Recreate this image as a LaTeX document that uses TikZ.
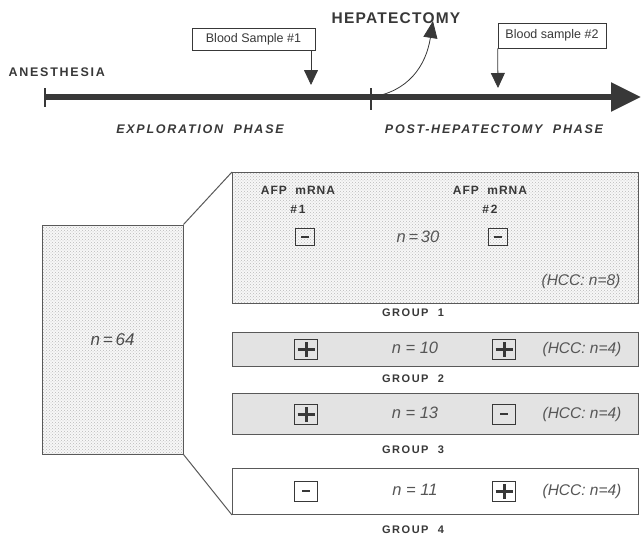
\documentclass[tikz,border=0pt]{standalone}
\usepackage{fontspec}
\setmainfont{Liberation Sans}
\newfontfamily\spaced[LetterSpace=8]{Liberation Sans}
\newfontfamily\wide[LetterSpace=14]{Liberation Sans}
\usetikzlibrary{arrows.meta,patterns}
\definecolor{ink}{gray}{0.22}
\definecolor{boxline}{gray}{0.35}
\tikzset{
  sample/.style={draw=ink, line width=0.7pt, inner sep=2.5pt, font=\fontsize{12.5}{14}\selectfont, text=ink},
  samplearrow/.style={draw=ink, line width=0.8pt, -{Triangle[length=15pt,width=14pt]}},
  phase/.style={font=\wide\fontsize{12.5}{14}\selectfont\bfseries\itshape, text=ink},
  grouplbl/.style={font=\wide\fontsize{11}{13}\selectfont\bfseries, text=ink},
  grpbox/.style={draw=boxline, line width=1pt},
  stipple/.style={preaction={fill=gray!6}, pattern=crosshatch dots, pattern color=gray!55},
  screen/.style={fill=gray!22},
  nlbl/.style={font=\fontsize{16.5}{18}\selectfont\itshape, text=ink!85},
  hcc/.style={font=\fontsize{15.5}{17}\selectfont\itshape, text=ink!85},
  afp/.style={font=\spaced\fontsize{12}{19}\selectfont\bfseries, text=ink, align=center},
  signbox/.style={draw=ink, line width=1pt, minimum width=23pt, minimum height=20pt, inner sep=0pt},
  plusbox/.style={signbox, path picture={
     \draw[line width=3pt, ink] ([xshift=-8.5pt]path picture bounding box.center) -- ([xshift=8.5pt]path picture bounding box.center);
     \draw[line width=3pt, ink] ([yshift=-7.5pt]path picture bounding box.center) -- ([yshift=7.5pt]path picture bounding box.center);}},
  minusbox/.style={signbox, path picture={
     \draw[line width=2.6pt, ink] ([xshift=-4pt]path picture bounding box.center) -- ([xshift=4pt]path picture bounding box.center);}},
  smallminus/.style={minusbox, minimum width=19pt, minimum height=17pt}
}
\begin{document}
\begin{tikzpicture}[x=1pt,y=-1pt]
\useasboundingbox (0,0) rectangle (641,538);

% ---- timeline ----
\coordinate (tstart) at (45,97);
\coordinate (thep) at (371,97);
\coordinate (tend) at (641,97);
\draw[ink, line width=5.5pt, -{Triangle[length=30pt,width=28pt]}] (tstart) -- (tend);
\draw[ink, line width=2.5pt] (45,88) -- (45,107);
\draw[ink, line width=2.5pt] (371,88) -- (371,110);

\node[font=\wide\fontsize{12.5}{14}\selectfont\bfseries, text=ink, anchor=west] (anest) at (5,72) {ANESTHESIA};
\node[font=\spaced\fontsize{15.5}{18}\selectfont\bfseries, text=ink] (hep) at (396,18) {HEPATECTOMY};
\coordinate (heptip) at (433,21);
\draw[ink, line width=0.8pt, -{Triangle[length=17pt,width=14pt]}] (thep) .. controls (408,92) and (426,66) .. (heptip);

\node[sample, minimum width=123pt, minimum height=22pt] (bs1) at (253.5,39) {Blood Sample \#1};
\coordinate (bs1tip) at (311,85);
\draw[samplearrow] (bs1.south east -| bs1tip) -- (bs1tip);

\node[sample, minimum width=108pt, minimum height=25pt] (bs2) at (552,35.5) {Blood sample \#2};
\coordinate (bs2tip) at (498,88);
\draw[samplearrow] (bs2.south west) -- (bs2tip);

\node[phase] (expl) at (200,129) {EXPLORATION\ \ PHASE};
\node[phase] (post) at (494,129) {POST-HEPATECTOMY\ \ PHASE};

% ---- big box ----
\node[grpbox, stipple, minimum width=141pt, minimum height=229pt, inner sep=0pt] (all) at (112.5,339.5) {};
\node[nlbl, font=\fontsize{17}{19}\selectfont\itshape, text=gray!60!black] at (all.center) {$\mathit{n}$\,=\,64};

% ---- group boxes ----
\node[grpbox, stipple, minimum width=406pt, minimum height=131pt, inner sep=0pt, anchor=north west] (g1) at (232,172) {};
\node[grpbox, screen, minimum width=406pt, minimum height=34pt, inner sep=0pt, anchor=north west] (g2) at (232,332) {};
\node[grpbox, screen, minimum width=406pt, minimum height=41pt, inner sep=0pt, anchor=north west] (g3) at (232,393) {};
\node[grpbox, fill=white, minimum width=406pt, minimum height=46pt, inner sep=0pt, anchor=north west] (g4) at (232,468) {};

\draw[grpbox] (all.north east) -- (g1.north west);
\draw[grpbox] (all.south east) -- (g4.south west);

% group 1 content
\node[afp] (afp1) at (298,200) {AFP\ \ mRNA\\\#\,1};
\node[afp] (afp2) at (490,200) {AFP\ \ mRNA\\\#\,2};
\node[smallminus] (g1a) at (305,237) {};
\node[smallminus] (g1b) at (498,237) {};
\node[nlbl] (g1n) at (418,237) {$\mathit{n}$\,=\,30};
\node[hcc] (g1h) at (581,281) {(HCC: n=8)};

% group 2
\node[plusbox] (g2a) at (306,349) {};
\node[plusbox] (g2b) at (504,349) {};
\node[nlbl] (g2n) at (415,348) {$\mathit{n}$ = 10};
\node[hcc] (g2h) at (582,349) {(HCC: n=4)};

% group 3
\node[plusbox] (g3a) at (306,414) {};
\node[minusbox] (g3b) at (504,414) {};
\node[nlbl] (g3n) at (415,413) {$\mathit{n}$ = 13};
\node[hcc] (g3h) at (582,414) {(HCC: n=4)};

% group 4
\node[minusbox] (g4a) at (306,491) {};
\node[plusbox] (g4b) at (504,491) {};
\node[nlbl] (g4n) at (415,490) {$\mathit{n}$ = 11};
\node[hcc] (g4h) at (582,491) {(HCC: n=4)};

% group labels
\node[grouplbl] at (413,313) {GROUP\ \ 1};
\node[grouplbl] at (413,379) {GROUP\ \ 2};
\node[grouplbl] at (413,450) {GROUP\ \ 3};
\node[grouplbl] at (413,530) {GROUP\ \ 4};
\end{tikzpicture}
\end{document}
